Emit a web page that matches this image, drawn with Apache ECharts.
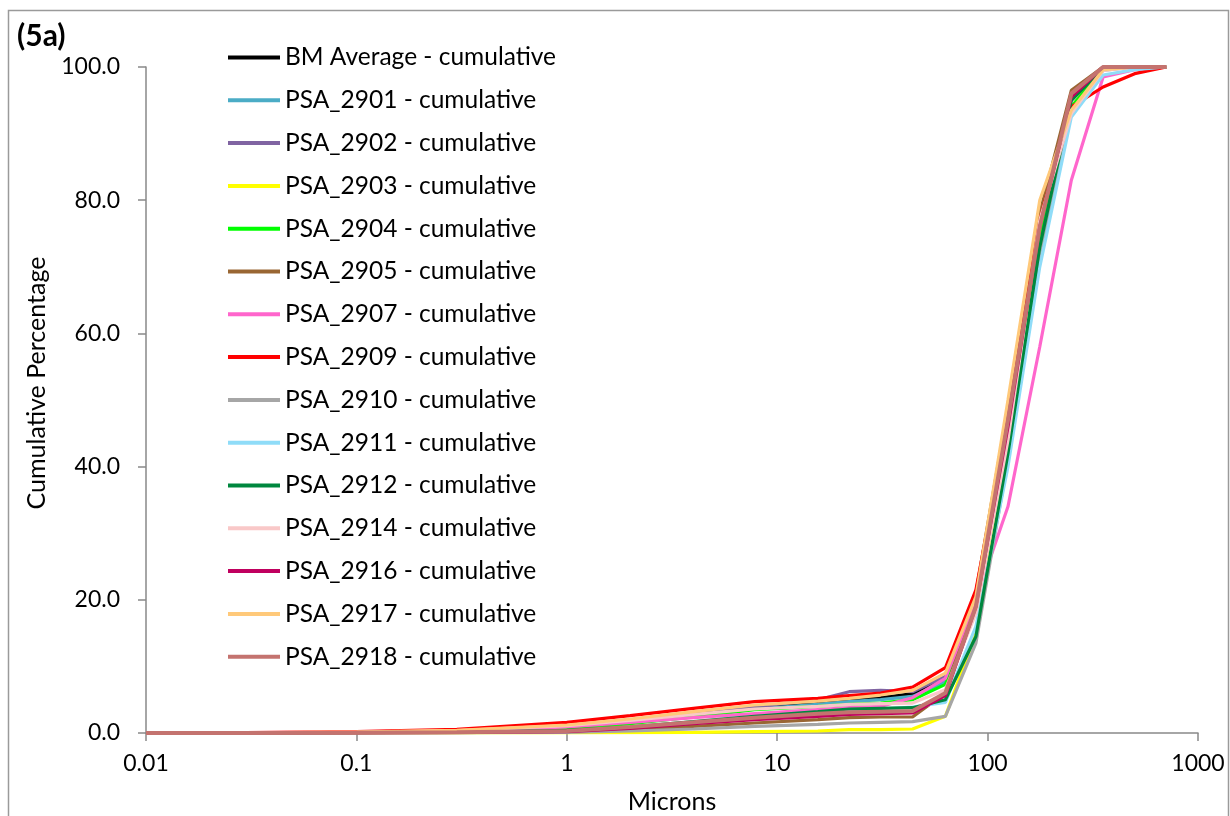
<!DOCTYPE html>
<html>
<head>
<meta charset="utf-8">
<style>
  html, body { margin: 0; padding: 0; background: #ffffff; }
  #chart { width: 1230px; height: 816px; }
</style>
<script src="https://cdn.jsdelivr.net/npm/echarts@6/dist/echarts.min.js"></script>
</head>
<body>
<div id="chart"></div>
<script>
// Particle sizes (microns) at which cumulative percentages were measured
const sizes = [0.01, 0.03, 0.1, 0.3, 1, 2, 4, 7.8, 15.6, 22, 31, 44, 63, 88, 125, 177, 250, 354, 500, 707];

// Cumulative percentage passing for each sample
const bmAverage = [0, 0.02, 0.1, 0.25, 0.8, 1.7, 2.8, 3.7, 4.5, 4.9, 5.3, 5.9, 8.0, 19.5, 46, 76, 94, 99.7, 100, 100];
const psa2901 = [0, 0.02, 0.08, 0.2, 0.8, 1.6, 2.7, 3.6, 4.3, 4.7, 5.0, 5.5, 7.7, 19, 45, 75, 95, 99.8, 100, 100];
const psa2902 = [0, 0.02, 0.1, 0.25, 0.9, 1.8, 2.9, 3.9, 5.0, 6.2, 6.4, 6.2, 8.5, 20, 47, 77, 96, 100, 100, 100];
const psa2903 = [0, 0, 0, 0, 0, 0.05, 0.1, 0.2, 0.3, 0.5, 0.5, 0.6, 2.5, 15, 43, 74, 94, 99.8, 100, 100];
const psa2904 = [0, 0.02, 0.08, 0.2, 0.6, 1.4, 2.4, 3.5, 4.0, 4.3, 4.5, 5.0, 7.3, 18.5, 44, 74, 94, 99.7, 100, 100];
const psa2905 = [0, 0.01, 0.03, 0.05, 0.15, 0.5, 1.0, 1.5, 2.0, 2.3, 2.4, 2.4, 6.0, 21, 49, 78, 96.5, 100, 100, 100];
const psa2907 = [0, 0.02, 0.08, 0.2, 0.9, 1.6, 2.3, 2.9, 3.5, 3.8, 4.0, 5.3, 8.2, 20, 34, 58, 83, 98.5, 99.6, 100];
const psa2909 = [0, 0.05, 0.2, 0.55, 1.6, 2.6, 3.7, 4.7, 5.2, 5.6, 6.0, 6.9, 9.8, 21.5, 47, 77, 94, 97, 99, 100];
const psa2910 = [0, 0, 0.02, 0.05, 0.1, 0.3, 0.6, 1.0, 1.3, 1.5, 1.6, 1.7, 2.5, 13.5, 41, 72, 93, 99.5, 100, 100];
const psa2911 = [0, 0.01, 0.05, 0.1, 0.3, 0.8, 1.5, 2.2, 2.9, 3.3, 3.6, 3.9, 4.6, 16, 40, 70, 92.5, 98.8, 99.6, 100];
const psa2912 = [0, 0.01, 0.05, 0.15, 0.4, 0.9, 1.7, 2.5, 3.2, 3.6, 3.7, 3.8, 5.0, 14.5, 42, 73, 95, 99.8, 100, 100];
const psa2914 = [0, 0.03, 0.12, 0.35, 1.1, 1.9, 2.8, 3.6, 4.0, 4.3, 4.4, 4.5, 6.5, 18, 44, 77, 93, 99.5, 100, 100];
const psa2916 = [0, 0.01, 0.03, 0.08, 0.2, 0.7, 1.4, 2.0, 2.5, 2.8, 2.9, 3.0, 5.6, 19, 46, 76, 95.5, 100, 100, 100];
const psa2917 = [0, 0.03, 0.15, 0.4, 1.2, 2.1, 3.2, 4.2, 4.8, 5.2, 5.7, 6.4, 9.0, 20.5, 50, 80, 93.5, 99.6, 100, 100];
const psa2918 = [0, 0.01, 0.05, 0.1, 0.3, 0.9, 1.6, 2.3, 2.9, 3.1, 3.2, 3.3, 6.0, 19, 47, 76, 96, 100, 100, 100];

const seriesNames = [
  'BM Average - cumulative', 'PSA_2901 - cumulative', 'PSA_2902 - cumulative',
  'PSA_2903 - cumulative', 'PSA_2904 - cumulative', 'PSA_2905 - cumulative',
  'PSA_2907 - cumulative', 'PSA_2909 - cumulative', 'PSA_2910 - cumulative',
  'PSA_2911 - cumulative', 'PSA_2912 - cumulative', 'PSA_2914 - cumulative',
  'PSA_2916 - cumulative', 'PSA_2917 - cumulative', 'PSA_2918 - cumulative'
];
const seriesValues = [
  bmAverage, psa2901, psa2902, psa2903, psa2904, psa2905, psa2907, psa2909,
  psa2910, psa2911, psa2912, psa2914, psa2916, psa2917, psa2918
];
const seriesColors = [
  '#000000', '#4bacc6', '#8064a2', '#ffff00', '#00ff00', '#996633', '#ff66cc',
  '#ff0000', '#a6a6a6', '#8fdcf8', '#00873e', '#f9c8c8', '#c0005f', '#ffc97a', '#c4736f'
];

const FONT = 'Lato, "Open Sans", sans-serif';
const AXIS_GRAY = '#898989';

const chart = echarts.init(document.getElementById('chart'), null, { renderer: 'canvas' });

const series = seriesNames.map((name, i) => ({
  name: name,
  type: 'line',
  color: seriesColors[i],
  data: sizes.map((s, k) => [s, seriesValues[i][k]]),
  showSymbol: false,
  symbol: 'none',
  smooth: false,
  lineStyle: { width: i === seriesNames.length - 1 ? 4 : 3.2, color: seriesColors[i] },
  emphasis: { disabled: true },
  animation: false
}));

chart.setOption({
  animation: false,
  backgroundColor: '#ffffff',
  grid: { left: 146, right: 32, top: 67, bottom: 83, containLabel: false },
  xAxis: {
    type: 'log',
    logBase: 10,
    min: 0.01,
    max: 1000,
    axisLine: { show: true, lineStyle: { color: AXIS_GRAY, width: 1.5 } },
    axisTick: { show: true, inside: false, length: 8, lineStyle: { color: AXIS_GRAY, width: 1.5 } },
    minorTick: { show: false },
    splitLine: { show: false },
    axisLabel: {
      color: '#000000', fontFamily: FONT, fontSize: 23, margin: 19,
      formatter: v => String(+Number(v).toPrecision(6))
    }
  },
  yAxis: {
    type: 'value',
    min: 0,
    max: 100,
    interval: 20,
    axisLine: { show: true, lineStyle: { color: AXIS_GRAY, width: 1.5 } },
    axisTick: { show: true, inside: false, length: 8, lineStyle: { color: AXIS_GRAY, width: 1.5 } },
    splitLine: { show: false },
    axisLabel: {
      color: '#000000', fontFamily: FONT, fontSize: 23, margin: 26,
      formatter: v => Number(v).toFixed(1)
    }
  },
  legend: {
    orient: 'vertical',
    left: 228,
    top: 45,
    padding: 0,
    icon: 'rect',
    itemWidth: 52,
    itemHeight: 4,
    itemGap: 17.8,
    selectedMode: false,
    textStyle: { color: '#000000', fontFamily: FONT, fontSize: 24.5, padding: [0, 0, 0, 0] },
    data: seriesNames
  },
  graphic: [
    {
      type: 'rect', silent: true,
      shape: { x: 8.5, y: 10.5, width: 1220, height: 830 },
      style: { fill: null, stroke: '#9a9a9a', lineWidth: 1.5 }
    },
    {
      type: 'text', left: 17, top: 21, silent: true,
      style: { text: '(5a)', fill: '#000000', font: 'bold 30px ' + FONT }
    },
    {
      type: 'text', silent: true, x: 37, y: 383, rotation: Math.PI / 2,
      style: { text: 'Cumulative Percentage', fill: '#000000', font: '25px ' + FONT, align: 'center', verticalAlign: 'middle' }
    },
    {
      type: 'text', silent: true, x: 672, y: 802,
      style: { text: 'Microns', fill: '#000000', font: '25px ' + FONT, align: 'center', verticalAlign: 'middle' }
    }
  ],
  series: series
});
</script>
</body>
</html>
